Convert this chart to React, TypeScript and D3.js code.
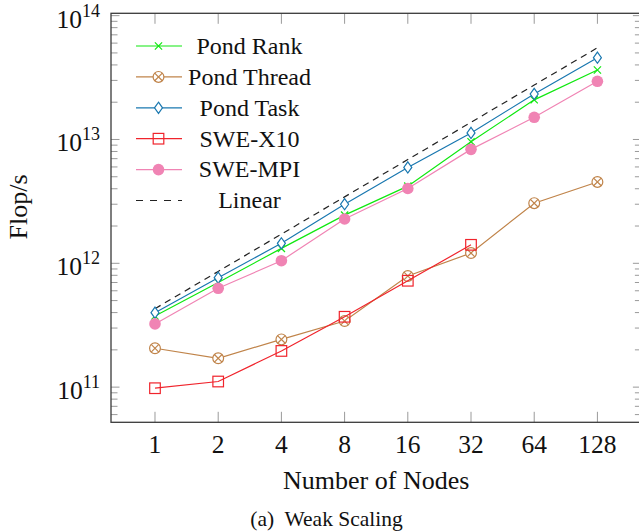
import React from "react";
import * as d3 from "d3";

const nodes = [1, 2, 4, 8, 16, 32, 64, 128];
const pondRank = [3.75e11, 7.0e11, 1.32e12, 2.45e12, 4.2e12, 9.6e12, 2.09e13, 3.64e13];
const pondThread = [2.06e11, 1.71e11, 2.43e11, 3.42e11, 7.9e11, 1.21e12, 3.06e12, 4.54e12];
const pondTask = [3.99e11, 7.65e11, 1.45e12, 3.0e12, 5.95e12, 1.13e13, 2.33e13, 4.58e13];
const sweX10 = [9.8e10, 1.11e11, 1.96e11, 3.7e11, 7.23e11, 1.41e12, null, null];
const sweMPI = [3.24e11, 6.28e11, 1.05e12, 2.28e12, 4.02e12, 8.32e12, 1.51e13, 2.95e13];
const linear = [4.3e11, 8.6e11, 1.72e12, 3.44e12, 6.88e12, 1.376e13, 2.752e13, 5.504e13];
const yTickExps = [11, 12, 13, 14];

const seriesNames = ["Pond Rank", "Pond Thread", "Pond Task", "SWE-X10", "SWE-MPI", "Linear"];
const seriesData = [pondRank, pondThread, pondTask, sweX10, sweMPI, linear];
const seriesColors = ["#10e810", "#c0844a", "#1a78b0", "#f0242c", "#f084b4", "#222222"];
const seriesMarks = ["x", "otimes", "diamond", "square", "dot", "none"];

const W = 639, H = 531;
const L = 111, R = 641.4, T = 13.3, B = 422.3;
const FONT = "'Liberation Serif', 'Times New Roman', serif";

const x = d3.scaleLinear().domain([-0.696, 7.696]).range([L, R]);
const y = d3.scaleLog().domain([Math.pow(10, 10.716), Math.pow(10, 14.019)]).range([B, T]);

function Marker({ kind, cx, cy, color }: { kind: string; cx: number; cy: number; color: string }) {
  const sw = 1.2;
  if (kind === "x") {
    const s = 3.6;
    return (
      <g stroke={color} strokeWidth={sw}>
        <line x1={cx - s} y1={cy - s} x2={cx + s} y2={cy + s} />
        <line x1={cx - s} y1={cy + s} x2={cx + s} y2={cy - s} />
      </g>
    );
  }
  if (kind === "otimes") {
    const r = 5.4;
    const d = r * 0.707;
    return (
      <g stroke={color} strokeWidth={sw} fill="white">
        <circle cx={cx} cy={cy} r={r} />
        <line x1={cx - d} y1={cy - d} x2={cx + d} y2={cy + d} />
        <line x1={cx - d} y1={cy + d} x2={cx + d} y2={cy - d} />
      </g>
    );
  }
  if (kind === "diamond") {
    const w = 4, h = 5.6;
    return (
      <path
        d={`M${cx},${cy - h}L${cx + w},${cy}L${cx},${cy + h}L${cx - w},${cy}Z`}
        stroke={color}
        strokeWidth={sw}
        fill="white"
      />
    );
  }
  if (kind === "square") {
    const s = 5.3;
    return <rect x={cx - s} y={cy - s} width={2 * s} height={2 * s} stroke={color} strokeWidth={sw} fill="none" />;
  }
  if (kind === "dot") {
    return <circle cx={cx} cy={cy} r={5.8} fill={color} />;
  }
  return null;
}

export default function App() {
  const line = d3
    .line<[number, number | null]>()
    .defined((d) => d[1] !== null)
    .x((d) => x(d[0]))
    .y((d) => y(d[1] as number));

  const minor: number[] = [];
  for (let e = 10; e <= 13; e++) {
    for (let m = 2; m <= 9; m++) {
      const v = m * Math.pow(10, e);
      if (y(v) >= T && y(v) <= B) minor.push(v);
    }
  }
  const major = yTickExps.map((e) => Math.pow(10, e));

  const order = [5, 0, 1, 2, 3, 4];
  const tickColor = "#9a9a9a";

  return (
    <svg width={W} height={H} style={{ position: "absolute", left: 0, top: 0, background: "white" }} fontFamily={FONT}>
      <defs>
        <clipPath id="plotclip">
          <rect x={L} y={T - 8} width={R - L} height={B - T + 16} />
        </clipPath>
      </defs>
      {/* ticks */}
      <g stroke={tickColor} strokeWidth={1}>
        {nodes.map((n, i) => (
          <g key={n}>
            <line x1={x(i)} x2={x(i)} y1={B} y2={B - 10.5} />
            <line x1={x(i)} x2={x(i)} y1={T} y2={T + 10.5} />
          </g>
        ))}
        {minor.map((v) => (
          <g key={v}>
            <line x1={L} x2={L + 6.5} y1={y(v)} y2={y(v)} />
            <line x1={R} x2={R - 6.5} y1={y(v)} y2={y(v)} />
          </g>
        ))}
        {major.map((v) => (
          <g key={v}>
            <line x1={L} x2={L + 8.5} y1={y(v)} y2={y(v)} />
            <line x1={R} x2={R - 8.5} y1={y(v)} y2={y(v)} />
          </g>
        ))}
      </g>
      {/* series */}
      <g clipPath="url(#plotclip)">
        {order.map((si) => {
          const data = seriesData[si];
          const pts = nodes.map((_, i) => [i, data[i]] as [number, number | null]);
          return (
            <g key={si}>
              <path
                d={line(pts) || ""}
                fill="none"
                stroke={seriesColors[si]}
                strokeWidth={1.2}
                strokeDasharray={si === 5 ? "6.5,5" : undefined}
              />
              {pts
                .filter((p) => p[1] !== null)
                .map((p) => (
                  <Marker key={p[0]} kind={seriesMarks[si]} cx={x(p[0])} cy={y(p[1] as number)} color={seriesColors[si]} />
                ))}
            </g>
          );
        })}
      </g>
      {/* axis frame */}
      <rect x={L} y={T} width={R - L} height={B - T} fill="none" stroke="#3a3a3a" strokeWidth={1.3} />
      {/* x tick labels */}
      {nodes.map((n, i) => (
        <text key={n} x={x(i)} y={452.5} textAnchor="middle" fontSize={25.5} fill="#111">
          {n}
        </text>
      ))}
      {/* y tick labels */}
      {yTickExps.map((e) => (
        <text key={e} x={100} y={y(Math.pow(10, e)) + 12} textAnchor="end" fontSize={25.5} fill="#111">
          <tspan>10</tspan>
          <tspan dy={-11} fontSize={18}>
            {e}
          </tspan>
        </text>
      ))}
      {/* axis labels */}
      <text x={(L + R) / 2} y={489} textAnchor="middle" fontSize={26} fill="#111">
        Number of Nodes
      </text>
      <text transform={`translate(27,207) rotate(-90)`} textAnchor="middle" fontSize={26} fill="#111">
        Flop/s
      </text>
      <text x={326.5} y={526} textAnchor="middle" fontSize={21.5} fill="#111" style={{ whiteSpace: "pre" }}>
        {"(a)  Weak Scaling"}
      </text>
      {/* legend */}
      {seriesNames.map((name, si) => {
        const ly = 46 + si * 30.9;
        return (
          <g key={name}>
            <line
              x1={136}
              x2={182}
              y1={ly}
              y2={ly}
              stroke={seriesColors[si]}
              strokeWidth={1.2}
              strokeDasharray={si === 5 ? "7,7" : undefined}
            />
            <Marker kind={seriesMarks[si]} cx={158.5} cy={ly} color={seriesColors[si]} />
            <text x={249.5} y={ly + 7.8} textAnchor="middle" fontSize={24} fill="#111">
              {name}
            </text>
          </g>
        );
      })}
    </svg>
  );
}
